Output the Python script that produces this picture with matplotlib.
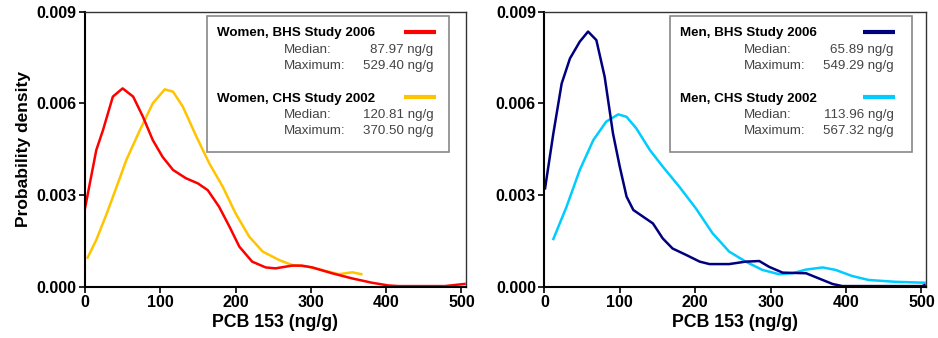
import matplotlib
matplotlib.use("Agg")
import matplotlib.pyplot as plt
from matplotlib.patches import Rectangle

plt.rcParams['font.family'] = ['Liberation Sans', 'DejaVu Sans']

# Women, BHS 2006
w_bhs_x = [0, 15, 24, 37, 50, 64, 77, 90, 103, 117, 134, 150, 163, 178, 192, 205, 222,
           240, 253, 275, 288, 302, 328, 355, 381, 403, 416, 478, 504]
w_bhs_y = [0.00256, 0.00447, 0.00513, 0.00622, 0.00649, 0.00622, 0.00556, 0.00480, 0.00425,
           0.00382, 0.00355, 0.00338, 0.00316, 0.00262, 0.00196, 0.00131, 0.00082, 0.00063,
           0.00060, 0.00069, 0.00069, 0.00063, 0.00044, 0.00027, 0.00013, 0.00004, 0.00002,
           0.00002, 0.00009]
# Women, CHS 2002
w_chs_x = [3.5, 15, 29, 42, 55, 73, 90, 106, 117, 130, 148, 165, 183, 200, 218, 236, 258,
           275, 297, 319, 337, 355, 367]
w_chs_y = [0.00095, 0.00153, 0.00240, 0.00327, 0.00415, 0.00513, 0.00600, 0.00646, 0.00638,
           0.00589, 0.00491, 0.00404, 0.00327, 0.00240, 0.00164, 0.00115, 0.00087, 0.00071,
           0.00065, 0.00052, 0.00041, 0.00047, 0.00041]
# Men, BHS 2006
m_bhs_x = [1, 12, 23, 34, 47, 58, 69, 80, 91, 100, 109, 118, 131, 144, 157, 170, 188, 206,
           219, 245, 267, 285, 298, 316, 347, 364, 382, 395, 501, 504]
m_bhs_y = [0.00322, 0.00502, 0.00665, 0.00747, 0.00802, 0.00835, 0.00807, 0.00687, 0.00502,
           0.00393, 0.00295, 0.00251, 0.00229, 0.00207, 0.00158, 0.00125, 0.00104, 0.00082,
           0.00074, 0.00074, 0.00082, 0.00084, 0.00065, 0.00046, 0.00044, 0.00027, 0.00009,
           0.00002, 0.00002, 0.00005]
# Men, CHS 2002
m_chs_x = [12, 29.5, 47, 65, 82, 98, 109, 122, 140, 157, 179, 201, 223, 245, 267, 289, 311,
           329, 347, 369, 386, 408, 430, 465, 504]
m_chs_y = [0.00156, 0.00262, 0.00382, 0.00480, 0.00540, 0.00564, 0.00556, 0.00518, 0.00447,
           0.00393, 0.00327, 0.00256, 0.00175, 0.00115, 0.00082, 0.00055, 0.00041, 0.00044,
           0.00056, 0.00063, 0.00055, 0.00035, 0.00022, 0.00016, 0.00013]

women_labels = ["Women, BHS Study 2006", "Women, CHS Study 2002"]
women_stats = [("87.97 ng/g", "529.40 ng/g"), ("120.81 ng/g", "370.50 ng/g")]
men_labels = ["Men, BHS Study 2006", "Men, CHS Study 2002"]
men_stats = [("65.89 ng/g", "549.29 ng/g"), ("113.96 ng/g", "567.32 ng/g")]

xticks = [0, 100, 200, 300, 400, 500]
yticks = [0.0, 0.003, 0.006, 0.009]
yticklabels = ["0.000", "0.003", "0.006", "0.009"]

c_red = "#FF0000"
c_yel = "#FFC400"
c_navy = "#00007F"
c_cyan = "#00CCFF"

fig = plt.figure(figsize=(9.38, 3.38), dpi=100)
ax1 = fig.add_axes([0.0906, 0.1518, 0.4062, 0.8136])
ax2 = fig.add_axes([0.5803, 0.1518, 0.4069, 0.8136])


def style_axes(ax, ylab):
    ax.set_xlim(0, 506)
    ax.set_ylim(0, 0.009)
    ax.set_xticks(xticks)
    ax.set_yticks(yticks)
    ax.set_yticklabels(yticklabels)
    ax.tick_params(direction='out', length=4, width=1.2, labelsize=11.5, pad=2)
    for lab in ax.get_xticklabels() + ax.get_yticklabels():
        lab.set_fontweight('bold')
    ax.spines['left'].set_linewidth(1.5)
    ax.spines['bottom'].set_linewidth(1.5)
    ax.spines['top'].set_linewidth(1.0)
    ax.spines['right'].set_linewidth(1.0)
    ax.spines['top'].set_color('#333333')
    ax.spines['right'].set_color('#333333')
    ax.set_xlabel("PCB 153 (ng/g)", fontsize=12.8, fontweight='bold', labelpad=3)
    if ylab:
        ax.set_ylabel("Probability density", fontsize=12.5, fontweight='bold', labelpad=4)


def legend_box(ax, x0, x1, labels, stats, colors):
    ax.add_patch(Rectangle((x0, 0.491), x1 - x0, 0.493, transform=ax.transAxes,
                           facecolor='white', edgecolor='#888888', linewidth=1.2, zorder=5))
    tops = [0.921, 0.684]
    for lab, st, col, ty in zip(labels, stats, colors, tops):
        ax.text(x0 + 0.027, ty, lab, transform=ax.transAxes, fontsize=9.6, fontweight='bold',
                va='center', ha='left', zorder=6)
        ax.plot([0.836, 0.92], [ty + 0.006, ty + 0.006], transform=ax.transAxes,
                color=col, linewidth=3, solid_capstyle='butt', zorder=6)
        ax.text(0.523, ty - 0.06, "Median:", transform=ax.transAxes, fontsize=9.6,
                color='#444444', va='center', ha='left', zorder=6)
        ax.text(0.523, ty - 0.118, "Maximum:", transform=ax.transAxes, fontsize=9.6,
                color='#444444', va='center', ha='left', zorder=6)
        ax.text(0.915, ty - 0.06, st[0], transform=ax.transAxes, fontsize=9.6,
                color='#444444', va='center', ha='right', zorder=6)
        ax.text(0.915, ty - 0.118, st[1], transform=ax.transAxes, fontsize=9.6,
                color='#444444', va='center', ha='right', zorder=6)


ax1.plot(w_chs_x, w_chs_y, color=c_yel, linewidth=1.8)
ax1.plot(w_bhs_x, w_bhs_y, color=c_red, linewidth=1.8)
style_axes(ax1, True)
legend_box(ax1, 0.319, 0.956, women_labels, women_stats, [c_red, c_yel])

ax2.plot(m_chs_x, m_chs_y, color=c_cyan, linewidth=1.8)
ax2.plot(m_bhs_x, m_bhs_y, color=c_navy, linewidth=1.8)
style_axes(ax2, False)
legend_box(ax2, 0.329, 0.964, men_labels, men_stats, [c_navy, c_cyan])

fig.savefig("out.png", dpi=100)
